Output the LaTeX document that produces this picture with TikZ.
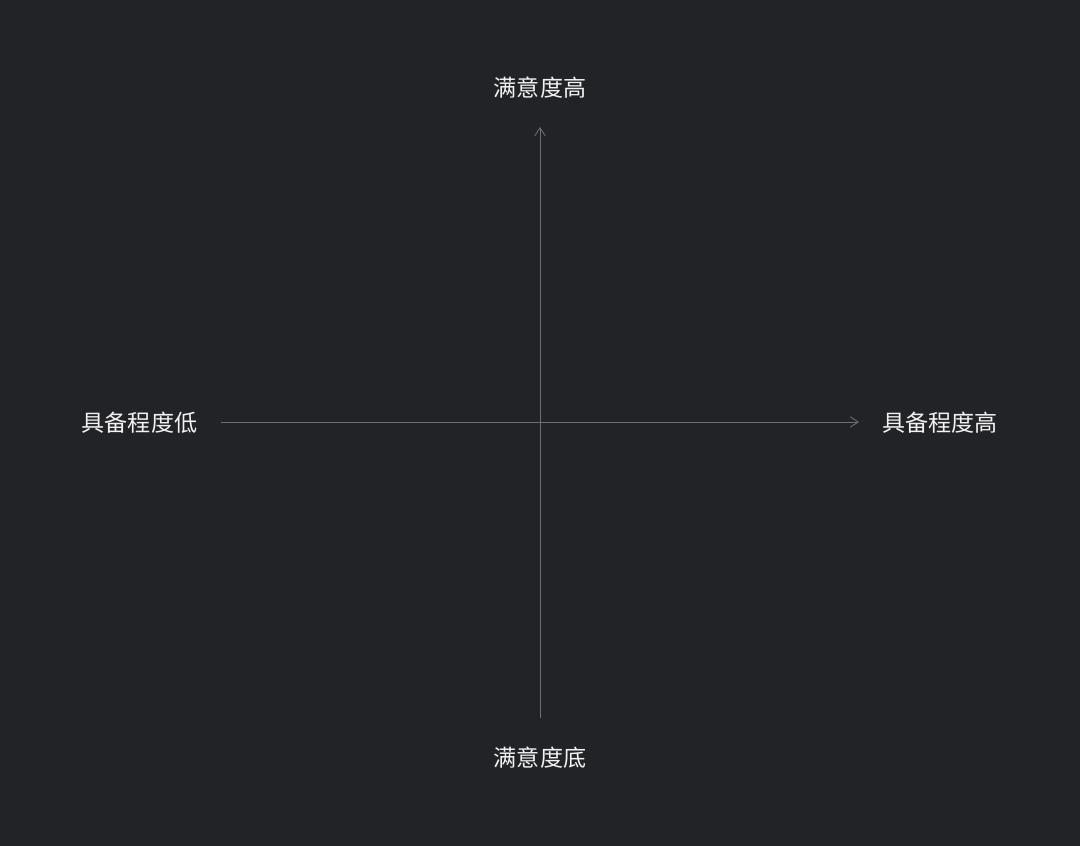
\documentclass[tikz,border=0pt]{standalone}
\usepackage{fontspec}
\newfontfamily\cjk{Noto Sans CJK SC}
\usetikzlibrary{arrows.meta}

\definecolor{bgdark}{HTML}{222327}
\definecolor{axisgray}{HTML}{6E6F73}
\definecolor{labelwhite}{HTML}{F2F2F2}

\tikzset{
  axis/.style={draw=axisgray, line width=0.6pt, -{Straight Barb[length=2mm,width=2.6mm]}},
  quadlabel/.style={text=labelwhite, font=\cjk\fontsize{16.4}{19}\selectfont, inner sep=0pt}
}

\begin{document}
\begin{tikzpicture}[x=0.025cm, y=-0.025cm]
  % background sets the page size
  \fill[bgdark] (0,0) rectangle (1080,846);
  \useasboundingbox (0,0) rectangle (1080,846);

  % axis end points
  \coordinate (ytop) at (540,127);
  \coordinate (ybot) at (540,718);
  \coordinate (xleft) at (221,422);
  \coordinate (xright) at (859,422);

  % axes
  \draw[axis] (xleft) -- (xright);
  \draw[axis] (ybot) -- (ytop);

  % labels
  \node[quadlabel] (high) at (540,88) {满意度高};
  \node[quadlabel] (low) at (540,758) {满意度底};
  \node[quadlabel] (less) at (139.5,422.5) {具备程度低};
  \node[quadlabel] (more) at (940,422.5) {具备程度高};
\end{tikzpicture}
\end{document}
